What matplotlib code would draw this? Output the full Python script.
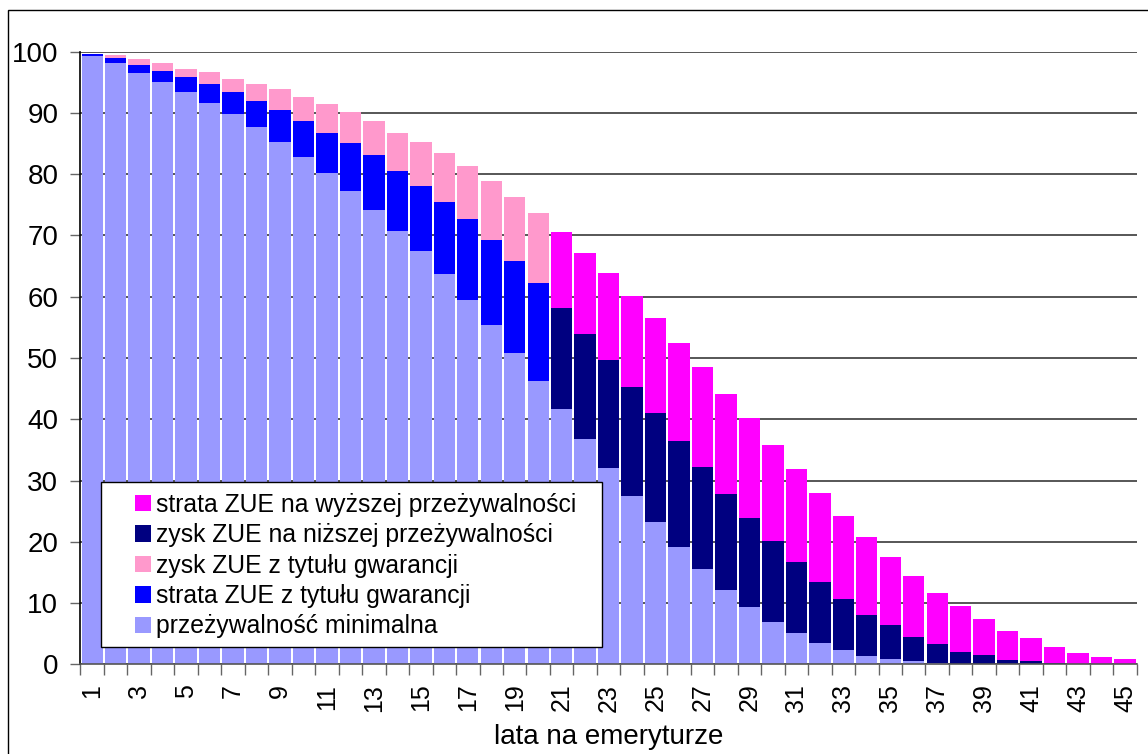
import numpy as np
import matplotlib.pyplot as plt
from matplotlib.patches import Rectangle

plt.rcParams['font.family'] = ['Liberation Sans', 'DejaVu Sans']

years = np.arange(1, 46)
guarantee_years = 20  # okres gwarancji

# przeżywalność minimalna
base_level = [99.3, 98.2, 96.6, 95.1, 93.4, 91.6, 89.8, 87.7, 85.2, 82.8,
              80.2, 77.2, 74.1, 70.7, 67.5, 63.7, 59.5, 55.4, 50.8, 46.2,
              41.7, 36.8, 32.0, 27.5, 23.2, 19.2, 15.6, 12.2, 9.4, 6.9,
              5.1, 3.5, 2.3, 1.4, 0.9, 0.5, 0.2, 0.0, 0.0, 0.0,
              0.0, 0.0, 0.0, 0.0, 0.0]
# krzywa środkowa
mid_level = [99.6, 98.9, 97.9, 96.8, 95.9, 94.7, 93.4, 92.0, 90.5, 88.7,
             86.8, 85.1, 83.1, 80.5, 78.1, 75.5, 72.7, 69.3, 65.9, 62.3,
             58.2, 53.9, 49.7, 45.3, 41.0, 36.5, 32.2, 27.8, 23.9, 20.1,
             16.7, 13.4, 10.7, 8.1, 6.4, 4.5, 3.3, 2.0, 1.5, 0.7,
             0.5, 0.2, 0.1, 0.0, 0.0]
# krzywa górna
top_level = [99.6, 99.5, 98.8, 98.2, 97.2, 96.7, 95.6, 94.7, 93.9, 92.6,
             91.5, 90.2, 88.7, 86.8, 85.3, 83.5, 81.4, 78.9, 76.3, 73.7,
             70.6, 67.2, 63.9, 60.1, 56.5, 52.5, 48.5, 44.1, 40.2, 35.8,
             31.9, 28.0, 24.2, 20.8, 17.5, 14.4, 11.6, 9.5, 7.4, 5.4,
             4.3, 2.8, 1.8, 1.2, 0.9]

labels = ['przeżywalność minimalna',
          'strata ZUE z tytułu gwarancji',
          'zysk ZUE z tytułu gwarancji',
          'zysk ZUE na niższej przeżywalności',
          'strata ZUE na wyższej przeżywalności']
colors = ['#9999FF', '#0000FF', '#FF99CC', '#000080', '#FF00FF']

base = np.array(base_level)
mid = np.array(mid_level)
top = np.array(top_level)
in_guar = years <= guarantee_years

layers = [
    base,
    np.where(in_guar, mid - base, 0),
    np.where(in_guar, top - mid, 0),
    np.where(~in_guar, mid - base, 0),
    np.where(~in_guar, top - mid, 0),
]

fig = plt.figure(figsize=(11.48, 7.54), dpi=100)
ax = fig.add_axes([0.0701, 0.119, 0.9201, 0.8124])

bottom = np.zeros(len(years))
handles = []
for vals, col, lab in zip(layers, colors, labels):
    h = ax.bar(years, vals, bottom=bottom, width=0.91, color=col,
               linewidth=0, label=lab)
    handles.append(h)
    bottom += vals

ax.set_xlim(0.5, 45.5)
ax.set_ylim(0, 100)
ax.set_axisbelow(True)
ax.set_yticks(np.arange(0, 101, 10))
ax.yaxis.grid(True, color='#3a3a3a', linewidth=1.2)

odd = years[::2]
ax.set_xticks(odd)
ax.set_xticklabels([str(y) for y in odd], rotation=90, fontsize=18)
ax.set_xticks(np.arange(0.5, 46, 1), minor=True)
ax.tick_params(axis='x', which='major', length=0, pad=14)
ax.tick_params(axis='x', which='minor', length=8, color='#666666', width=1)
ax.tick_params(axis='y', length=7, color='#666666', width=1, pad=9,
               labelsize=20)

for side in ('top', 'right'):
    ax.spines[side].set_visible(False)
ax.spines['left'].set_color('black')
ax.spines['left'].set_linewidth(1.2)
ax.spines['bottom'].set_color('#555555')
ax.spines['bottom'].set_linewidth(1.2)

ax.set_xlabel('lata na emeryturze', fontsize=20, labelpad=9)

# ramka legendy rysowana osobno
ax.add_patch(Rectangle((0.0194, 0.0278), 0.4741, 0.2693,
                       transform=ax.transAxes, facecolor='white',
                       edgecolor='black', linewidth=1.0, zorder=4))
ax.legend(handles[::-1], labels[::-1], loc='upper left',
          bbox_to_anchor=(0.0516, 0.280), frameon=False, fontsize=17.8,
          borderpad=0, borderaxespad=0, handlelength=0.65,
          handleheight=0.65, handletextpad=0.22, labelspacing=0.26)

# obramowanie obszaru wykresu
fig.add_artist(Rectangle((8.3 / 1148, -0.1), 1.2, 0.1 + (754 - 10.3) / 754,
                         transform=fig.transFigure, fill=False,
                         edgecolor='black', linewidth=1.0))

fig.savefig('out.png', dpi=100)
